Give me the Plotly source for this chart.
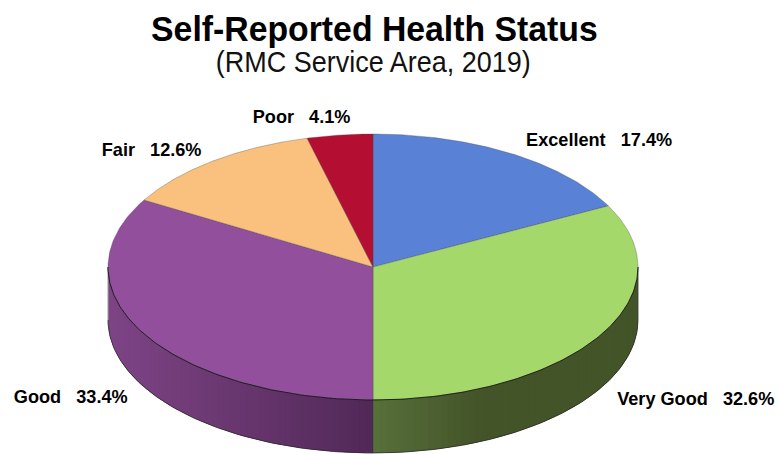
import numpy as np
import plotly.graph_objects as go

categories = ["Excellent", "Very Good", "Good", "Fair", "Poor"]
values = [17.4, 32.6, 33.4, 12.6, 4.1]
colors = ["#5981D5", "#A5D86A", "#914F9C", "#F9C07E", "#B40F32"]
label_pos = [(599, 139), (695, 398), (70, 396), (151, 149), (301, 116)]

CX, CY, RX, RY, DEPTH = 373.0, 267.0, 265.0, 133.0, 53.0
FONT = "Liberation Sans, Arial, sans-serif"


def ell(t, dy=0.0):
    t = np.asarray(t)
    return CX + RX * np.sin(t), CY - RY * np.cos(t) + dy


def lerp(a, b, f):
    return "rgb(%d,%d,%d)" % tuple(round(a[i] + (b[i] - a[i]) * f) for i in range(3))


def side_color(t):
    if t >= np.pi:  # purple wall, darkens towards the front centre
        return lerp((126, 68, 134), (80, 40, 86), 1 - np.sin(t - np.pi))
    f = min(1.0, np.sin(np.pi - t) / 0.42)
    return lerp((88, 112, 58), (67, 84, 41), f)


fig = go.Figure()
edges = np.radians(np.concatenate([[0], np.cumsum(values)]) * 3.6)
edges[-1] = 2 * np.pi

# side wall strips, each overlapping its neighbour to avoid seams
strip = np.linspace(np.pi / 2, 3 * np.pi / 2, 121)
step = strip[1] - strip[0]
wall = [(a, b + step) for a, b in zip(strip[:60], strip[1:61])][::-1] + \
       [(a - step, b) for a, b in zip(strip[60:-1], strip[61:])]
for a, b in wall:
    t = np.array([max(a, np.pi / 2), min(b, 3 * np.pi / 2)])
    if a < np.pi and b > np.pi:
        t = np.array([a, np.pi])
    elif a < np.pi <= b:
        t = np.array([np.pi, b])
    x, y = ell(t)
    xb, yb = ell(t[::-1], DEPTH)
    c = side_color((t[0] + t[1]) / 2)
    fig.add_trace(go.Scatter(
        x=np.r_[x, xb, x[0]], y=np.r_[y, yb, y[0]], mode="none", fill="toself",
        fillcolor=c, hoverinfo="skip", showlegend=False))

# wall outline
t = np.linspace(np.pi / 2, 3 * np.pi / 2, 200)
x, y = ell(t, DEPTH)
fig.add_trace(go.Scatter(x=x, y=y, mode="lines", line=dict(color="#2a2a2a", width=0.8),
                         hoverinfo="skip", showlegend=False))
for ang, col, w in [(3 * np.pi / 2, "#999999", 1), (np.pi / 2, "#333333", 0.8), (np.pi, "#333333", 0.4)]:
    xa, ya = ell(np.array([ang, ang]), np.array([0, DEPTH]))
    fig.add_trace(go.Scatter(x=xa, y=ya, mode="lines", line=dict(color=col, width=w),
                             hoverinfo="skip", showlegend=False))

# top slices
for name, c, a, b in zip(categories, colors, edges[:-1], edges[1:]):
    t = np.linspace(a, b, 160)
    x, y = ell(t)
    fig.add_trace(go.Scatter(
        x=np.r_[CX, x, CX], y=np.r_[CY, y, CY], mode="lines", fill="toself", fillcolor=c,
        line=dict(color="rgba(70,70,70,0.55)", width=0.6), name=name, showlegend=False,
        hoverinfo="name"))

# front rim
t = np.linspace(np.pi / 2, 3 * np.pi / 2, 200)
x, y = ell(t)
fig.add_trace(go.Scatter(x=x, y=y, mode="lines", line=dict(color="#151515", width=0.9),
                         hoverinfo="skip", showlegend=False))

ann = [
    dict(x=374, y=28, text="<b>Self-Reported Health Status</b>", font=dict(size=35, color="black", family=FONT)),
    dict(x=373, y=62, text="(RMC Service Area, 2019)", font=dict(size=29, color="#111111", family=FONT)),
]
for name, v, (lx, ly) in zip(categories, values, label_pos):
    ann.append(dict(x=lx, y=ly, text=f"<b>{name}&nbsp;&nbsp;&nbsp;{v}%</b>",
                    font=dict(size=18.4, color="black", family=FONT)))
for a in ann:
    a.update(xref="x", yref="y", showarrow=False, xanchor="center", yanchor="middle")

fig.update_layout(
    width=778, height=454, margin=dict(l=0, r=0, t=0, b=0),
    paper_bgcolor="white", plot_bgcolor="white", annotations=ann,
    xaxis=dict(range=[0, 778], visible=False, fixedrange=True),
    yaxis=dict(range=[454, 0], visible=False, fixedrange=True),
)
# the reference type is horizontally condensed
squeeze = """
document.body.style.margin='0';document.body.style.overflow='hidden';
function sq(){document.querySelectorAll('.annotation-text').forEach(function(el,i){
  var f=i==0?0.965:(i==1?0.93:0.985);
  var w=el.getComputedTextLength();
  if(w>0){el.setAttribute('lengthAdjust','spacingAndGlyphs');el.setAttribute('textLength',w*f);}
});}
setTimeout(sq,30);
"""
fig.write_html("out.html", config={"displayModeBar": False}, post_script=squeeze)
